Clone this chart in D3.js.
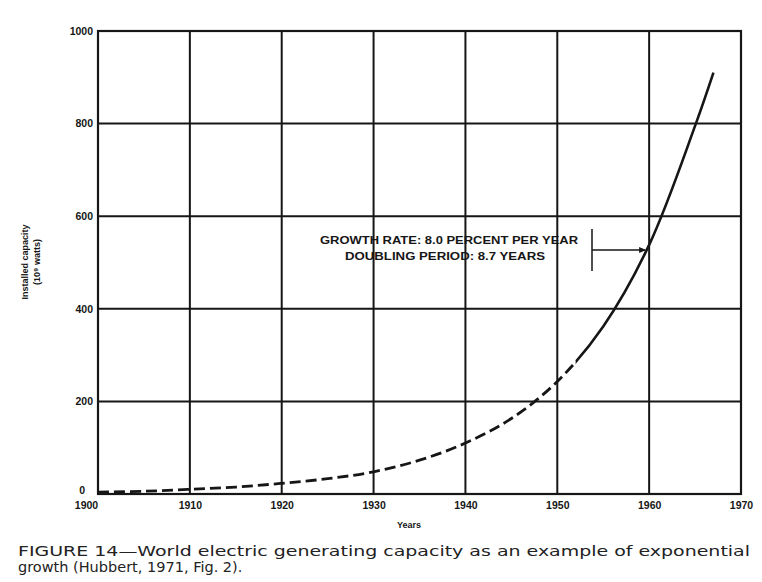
<!DOCTYPE html>
<html><head><meta charset="utf-8">
<script src="https://cdn.jsdelivr.net/npm/d3@7"></script>
<style>body{margin:0;background:#fff}svg{display:block}</style>
</head><body>
<script>
const years = [1900,1905,1910,1915,1920,1925,1930,1935,1940,1945,1950,1955,1960,1965,1967];
const capacity = [4,6,10,15,23,33,48,73,110,163,243,362,538,795,910];
const splitYear = 1952;
const xTicks = [1900,1910,1920,1930,1940,1950,1960,1970];
const yTicks = [0,200,400,600,800,1000];
const annotation = ["GROWTH RATE: 8.0 PERCENT PER YEAR","DOUBLING PERIOD: 8.7 YEARS"];
const captionLines = ["FIGURE 14\u2014World electric generating capacity as an example of exponential","growth (Hubbert, 1971, Fig. 2)."];

const W=762,H=582, L=98,R=741,T=31,B=494;
const svg=d3.select("body").append("svg").attr("width",W).attr("height",H);
svg.append("rect").attr("width",W).attr("height",H).attr("fill","#fff");
const x=d3.scaleLinear().domain([1900,1970]).range([L,R]);
const y=d3.scaleLinear().domain([0,1000]).range([B,T]);
const ink="#161616";
const font="'Liberation Sans', Arial, sans-serif";
const font2="'DejaVu Sans', sans-serif";

const defs=svg.append("defs");
defs.append("clipPath").attr("id","cDash").append("rect").attr("x",0).attr("y",0).attr("width",x(splitYear)).attr("height",H);
defs.append("clipPath").attr("id","cSolid").append("rect").attr("x",x(splitYear)).attr("y",0).attr("width",W).attr("height",H);

// grid
svg.append("g").selectAll("line").data(xTicks).join("line")
 .attr("x1",d=>x(d)).attr("x2",d=>x(d)).attr("y1",T).attr("y2",B)
 .attr("stroke",ink).attr("stroke-width",2);
svg.append("g").selectAll("line").data(yTicks).join("line")
 .attr("y1",d=>y(d)).attr("y2",d=>y(d)).attr("x1",L).attr("x2",R)
 .attr("stroke",ink).attr("stroke-width",2);
svg.append("rect").attr("x",L).attr("y",T).attr("width",R-L).attr("height",B-T)
 .attr("fill","none").attr("stroke",ink).attr("stroke-width",2.2);

// axes labels
const ya=svg.append("g").attr("transform",`translate(${L},0)`)
 .call(d3.axisLeft(y).tickValues(yTicks).tickSize(0).tickPadding(5).tickFormat(d3.format("d")));
ya.select(".domain").remove();
ya.selectAll("text").attr("font-family",font).attr("font-weight","bold").attr("font-size",10.5).attr("fill",ink);
ya.selectAll(".tick").filter(d=>d===0).select("text").attr("dy","-0.05em").attr("dx","-8");
const xa=svg.append("g").attr("transform",`translate(0,${B})`)
 .call(d3.axisBottom(x).tickValues(xTicks).tickSize(0).tickPadding(8).tickFormat(d3.format("d")));
xa.select(".domain").remove();
xa.selectAll("text").attr("font-family",font).attr("font-weight","bold").attr("font-size",10.5).attr("fill",ink);
xa.selectAll(".tick").filter(d=>d===1900).select("text").attr("dx","-12");

svg.append("text").attr("x",409).attr("y",528).attr("text-anchor","middle")
 .attr("font-family",font).attr("font-weight","bold").attr("font-size",9).attr("fill",ink).text("Years");
const yt=svg.append("text").attr("transform","translate(28,262) rotate(-90)").attr("text-anchor","middle")
 .attr("font-family",font).attr("font-weight","bold").attr("font-size",9).attr("fill",ink);
yt.append("tspan").attr("x",0).attr("dy",0).text("Installed capacity");
yt.append("tspan").attr("x",0).attr("dy",12).text("(10\u2079 watts)");

// curve
const pts=years.map((d,i)=>({year:d,v:capacity[i]}));
const line=d3.line().x(d=>x(d.year)).y(d=>y(d.v)).curve(d3.curveCatmullRom.alpha(0.5));
svg.append("path").datum(pts).attr("d",line).attr("clip-path","url(#cDash)")
 .attr("fill","none").attr("stroke",ink).attr("stroke-width",2.8).attr("stroke-dasharray","11,5");
svg.append("path").datum(pts).attr("d",line).attr("clip-path","url(#cSolid)")
 .attr("fill","none").attr("stroke",ink).attr("stroke-width",2.6);

// annotation
const ay=y(527);
svg.append("line").attr("x1",592).attr("x2",592).attr("y1",ay-21).attr("y2",ay+21).attr("stroke",ink).attr("stroke-width",1.5);
svg.append("line").attr("x1",592).attr("x2",x(1960)-4).attr("y1",ay).attr("y2",ay).attr("stroke",ink).attr("stroke-width",1.5);
svg.append("path").attr("d",`M${x(1960)-3},${ay} l-7,-3 l0,6 z`).attr("fill",ink);
svg.selectAll(".ann").data(annotation).join("text").attr("class","ann")
 .attr("x",(d,i)=>i===0?320:345).attr("y",(d,i)=>244+i*16)
 .attr("font-family",font).attr("font-weight","bold").attr("font-size",10.5).attr("fill",ink)
 .attr("textLength",(d,i)=>i===0?258:200).attr("lengthAdjust","spacingAndGlyphs")
 .text(d=>d);

// caption
svg.selectAll(".cap").data(captionLines).join("text").attr("class","cap")
 .attr("x",18).attr("y",(d,i)=>556+i*16)
 .attr("font-family",font2).attr("font-size",14.5).attr("fill","#222")
 .attr("textLength",(d,i)=>i===0?732:null).attr("lengthAdjust","spacingAndGlyphs")
 .text(d=>d);
</script>
</body></html>
